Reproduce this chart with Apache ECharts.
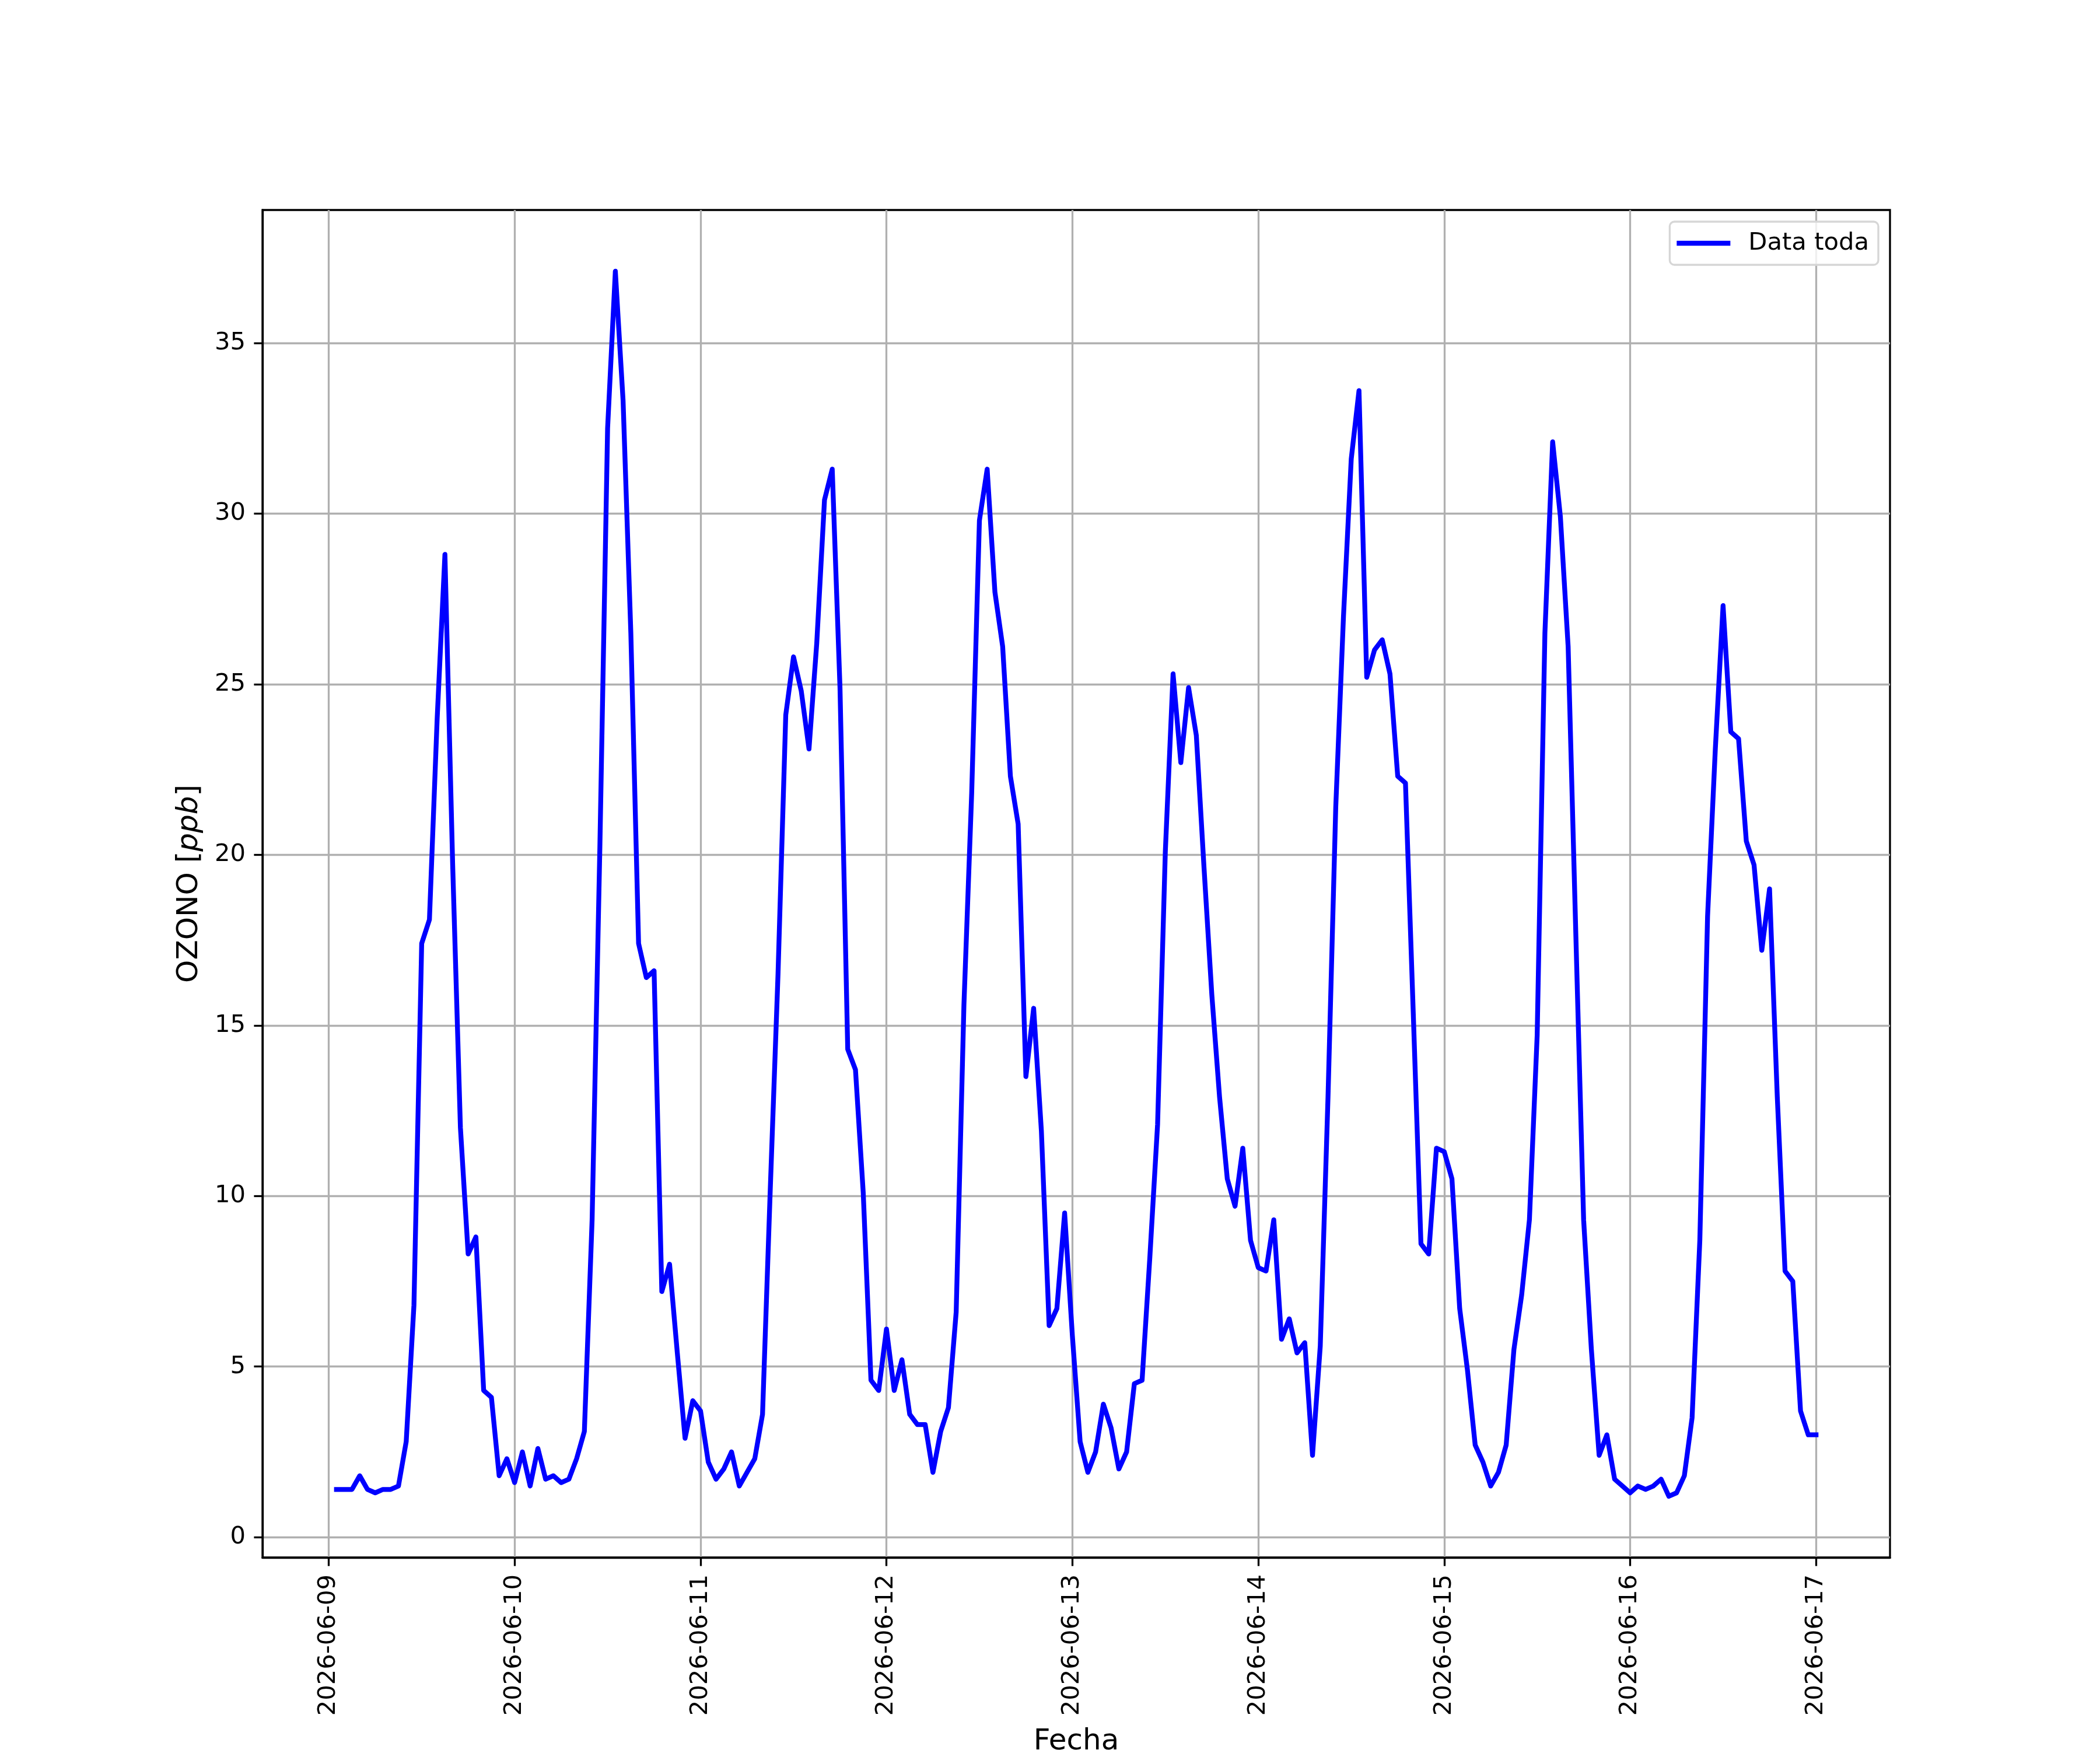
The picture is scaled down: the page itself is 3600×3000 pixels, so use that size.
<!DOCTYPE html>
<html>
<head>
<meta charset="utf-8">
<script src="https://cdn.jsdelivr.net/npm/echarts@6/dist/echarts.min.js"></script>
<style>
html,body{margin:0;padding:0;background:#fff;}
#chart{width:3600px;height:3000px;}
</style>
</head>
<body>
<div id="chart"></div>
<script>
// Hourly ozone values (ppb), starting 2026-06-09 01:00
const d0609 = [1.4,1.4,1.4,1.8,1.4,1.3,1.4,1.4,1.5,2.8,6.8,17.4,18.1,24.0,28.8,19.7,12.0,8.3,8.8,4.3,4.1,1.8,2.3];
const d0610 = [1.6,2.5,1.5,2.6,1.7,1.8,1.6,1.7,2.3,3.1,9.3,20.2,32.5,37.1,33.3,26.5,17.4,16.4,16.6,7.2,8.0,5.4,2.9,4.0];
const d0611 = [3.7,2.2,1.7,2.0,2.5,1.5,1.9,2.3,3.6,10.2,16.5,24.1,25.8,24.8,23.1,26.2,30.4,31.3,24.9,14.3,13.7,10.1,4.6,4.3];
const d0612 = [6.1,4.3,5.2,3.6,3.3,3.3,1.9,3.1,3.8,6.6,15.6,21.8,29.8,31.3,27.7,26.1,22.3,20.9,13.5,15.5,11.9,6.2,6.7,9.5];
const d0613 = [5.9,2.8,1.9,2.5,3.9,3.2,2.0,2.5,4.5,4.6,8.2,12.1,20.1,25.3,22.7,24.9,23.5,19.6,15.9,12.9,10.5,9.7,11.4,8.7];
const d0614 = [7.9,7.8,9.3,5.8,6.4,5.4,5.7,2.4,5.6,12.9,21.4,27.0,31.6,33.6,25.2,26.0,26.3,25.3,22.3,22.1,15.4,8.6,8.3,11.4];
const d0615 = [11.3,10.5,6.7,4.9,2.7,2.2,1.5,1.9,2.7,5.5,7.1,9.3,14.7,26.5,32.1,29.9,26.1,17.6,9.3,5.5,2.4,3.0,1.7,1.5];
const d0616 = [1.3,1.5,1.4,1.5,1.7,1.2,1.3,1.8,3.5,8.7,18.2,23.1,27.3,23.6,23.4,20.4,19.7,17.2,19.0,12.9,7.8,7.5,3.7,3.0];
const d0617 = [3.0];

const xTickLabels = ['2026-06-09','2026-06-10','2026-06-11','2026-06-12','2026-06-13','2026-06-14','2026-06-15','2026-06-16','2026-06-17'];
const yTicks = [0,5,10,15,20,25,30,35];
const seriesName = 'Data toda';

const HOUR = 3600 * 1000;
const startTime = Date.UTC(2026, 5, 9, 1, 0, 0);
const values = [].concat(d0609, d0610, d0611, d0612, d0613, d0614, d0615, d0616, d0617);
const points = values.map((v, i) => [startTime + i * HOUR, v]);

function parseDay(s) {
  const p = s.split('-').map(Number);
  return Date.UTC(p[0], p[1] - 1, p[2]);
}
const xTickValues = xTickLabels.map(parseDay);

const xFirst = points[0][0], xLast = points[points.length - 1][0];
const xPad = (xLast - xFirst) * 0.05;
const yLo = Math.min.apply(null, values), yHi = Math.max.apply(null, values);
const yPad = (yHi - yLo) * 0.05;

const FONT = 'DejaVu Sans';
const chart = echarts.init(document.getElementById('chart'), null, {renderer: 'canvas'});
chart.setOption({
  animation: false,
  backgroundColor: '#ffffff',
  grid: {
    left: 450, right: 360, top: 360, bottom: 330,
    show: true, borderColor: '#000000', borderWidth: 3.3, backgroundColor: 'transparent',
    containLabel: false, outerBoundsMode: 'none'
  },
  legend: {
    show: true,
    right: 380, top: 380,
    orient: 'horizontal',
    data: [{name: seriesName, icon: 'rect'}],
    itemWidth: 92, itemHeight: 8.3,
    padding: [14, 16, 14, 12],
    backgroundColor: 'rgba(255,255,255,0.8)',
    borderColor: '#d6d6d6', borderWidth: 3.3, borderRadius: 8,
    textStyle: {fontFamily: FONT, fontSize: 41.7, color: '#000', padding: [0, 0, 0, 26], lineHeight: 46}
  },
  xAxis: {
    type: 'value',
    min: xFirst - xPad, max: xLast + xPad,
    name: 'Fecha', nameLocation: 'middle', nameGap: 291,
    nameTextStyle: {fontFamily: FONT, fontSize: 50, color: '#000'},
    axisLine: {show: true, onZero: false, lineStyle: {color: '#000', width: 3.3}},
    axisTick: {show: true, length: 14.6, lineStyle: {color: '#000', width: 3.3}, customValues: xTickValues},
    axisLabel: {
      show: true, rotate: 90, margin: 29, fontFamily: FONT, fontSize: 41.7, color: '#000',
      customValues: xTickValues,
      formatter: function (v) {
        const i = xTickValues.indexOf(v);
        return i >= 0 ? xTickLabels[i] : '';
      }
    },
    splitLine: {show: true, lineStyle: {color: '#b0b0b0', width: 3.3}}
  },
  yAxis: {
    type: 'value',
    min: yLo - yPad, max: yHi + yPad,
    name: 'OZONO [{i|ppb}]', nameLocation: 'middle', nameGap: 100, nameRotate: 90,
    nameTextStyle: {fontFamily: FONT, fontSize: 50, color: '#000',
      rich: {i: {fontFamily: FONT, fontSize: 50, fontStyle: 'italic', color: '#000'}}},
    axisLine: {show: true, onZero: false, lineStyle: {color: '#000', width: 3.3}},
    axisTick: {show: true, length: 14.6, lineStyle: {color: '#000', width: 3.3}, customValues: yTicks},
    axisLabel: {show: true, margin: 29, fontFamily: FONT, fontSize: 41.7, color: '#000', customValues: yTicks},
    splitLine: {show: true, lineStyle: {color: '#b0b0b0', width: 3.3}}
  },
  series: [{
    name: seriesName,
    type: 'line',
    data: points,
    showSymbol: false,
    symbol: 'none',
    color: '#0000ff',
    lineStyle: {color: '#0000ff', width: 8.3, cap: 'square', join: 'round'},
    itemStyle: {color: '#0000ff'},
    emphasis: {disabled: true}
  }]
});
</script>
</body>
</html>
